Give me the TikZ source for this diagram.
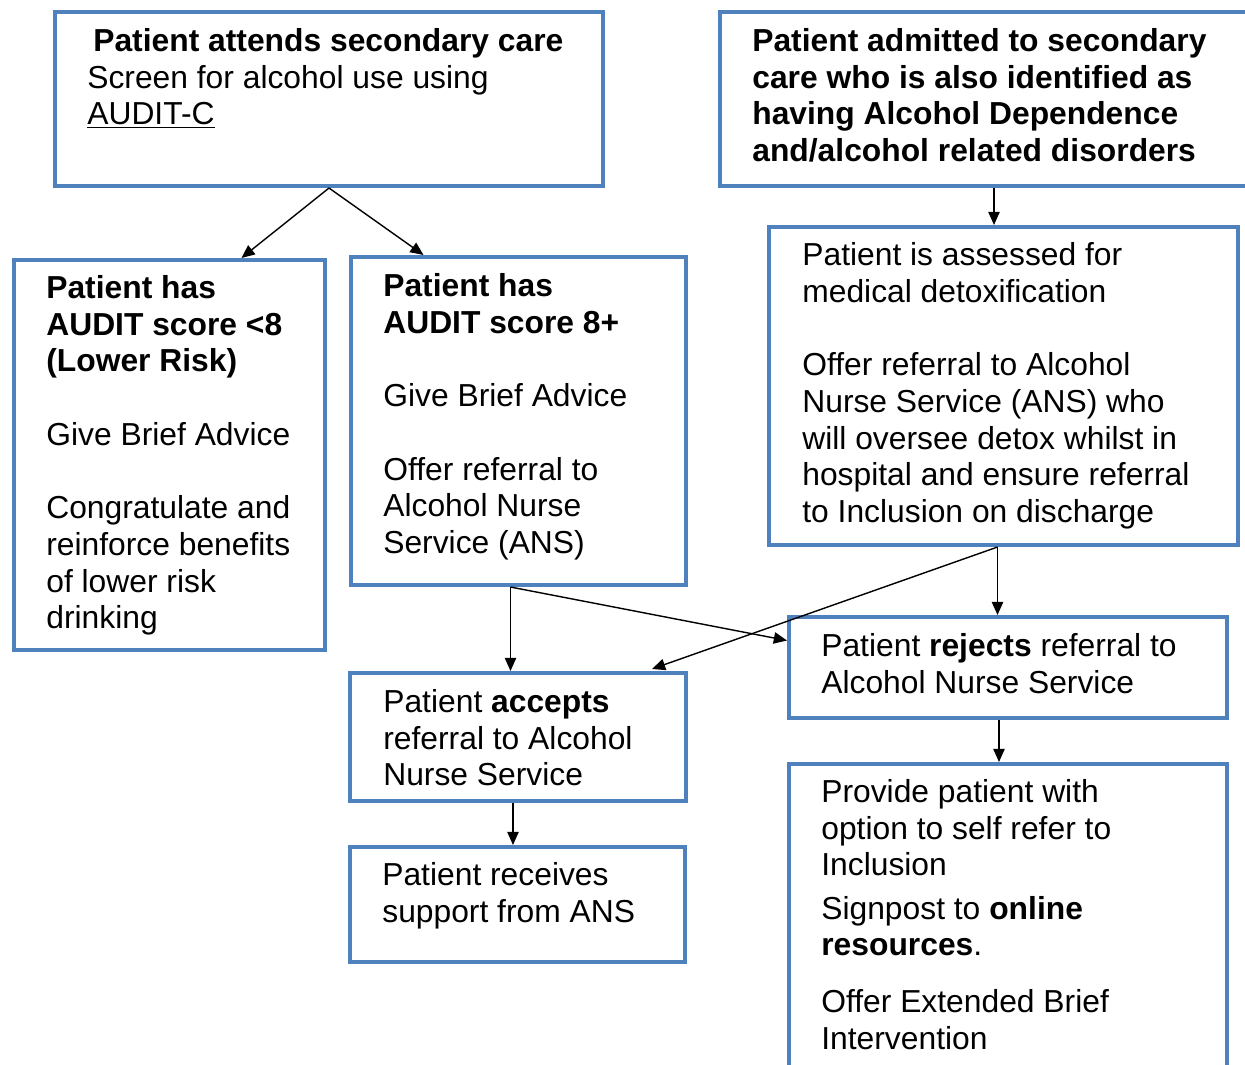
\documentclass[tikz,border=0pt]{standalone}
\usepackage{fontspec}
\setmainfont{Liberation Sans}
\usetikzlibrary{fit,calc,arrows.meta}
\definecolor{boxblue}{HTML}{4F81BD}
\tikzset{
  box/.style={draw=boxblue, line width=2.3pt, inner sep=0pt},
  txt/.style={anchor=north west, inner sep=0pt, align=left, font=\fontsize{18.1}{20.9}\selectfont},
  arr/.style={-{Triangle[length=7.5pt,width=6.5pt]}, line width=0.8pt}
}
\begin{document}
\begin{tikzpicture}[x=0.02cm, y=-0.02cm]
    \useasboundingbox (0,0) rectangle (1245,1065);
    \clip (0,0) rectangle (1245,1065);
    % boxes
    \node[box, fit={(55,12) (603,186)}] (attend) {};
    \node[box, fit={(720,12) (1264,186)}] (admit) {};
    \node[box, fit={(14,260) (325,650)}] (low) {};
    \node[box, fit={(351,257) (686,585)}] (high) {};
    \node[box, fit={(769,227) (1238,545)}] (assess) {};
    \node[box, fit={(350,673) (686,801)}] (accept) {};
    \node[box, fit={(789,617) (1227,718)}] (reject) {};
    \node[box, fit={(350,847) (685,962)}] (receive) {};
    \node[box, fit={(789,764) (1227,1100)}] (provide) {};
    % texts
    \node[txt] (attend-t) at (87,28) {\hspace*{3.4pt}\textbf{Patient attends secondary care}\\
        Screen for alcohol use using\\ \underline{AUDIT-C}};
    \node[txt] (admit-t) at (752,28) {\textbf{Patient admitted to secondary}\\
        \textbf{care who is also identified as}\\ \textbf{having Alcohol Dependence}\\
        \textbf{and/alcohol related disorders}};
    \node[txt] (low-t) at (46,275) {\textbf{Patient has}\\ \textbf{AUDIT score <8}\\
        \textbf{(Lower Risk)}\\[\baselineskip] Give Brief Advice\\[\baselineskip]
        Congratulate and\\ reinforce benefits\\ of lower risk\\ drinking};
    \node[txt] (high-t) at (383,273) {\textbf{Patient has}\\ \textbf{AUDIT score 8+}\\[\baselineskip]
        Give Brief Advice\\[\baselineskip] Offer referral to\\ Alcohol Nurse\\ Service (ANS)};
    \node[txt] (assess-t) at (802,242) {Patient is assessed for\\ medical detoxification\\[\baselineskip]
        Offer referral to Alcohol\\ Nurse Service (ANS) who\\ will oversee detox whilst in\\
        hospital and ensure referral\\ to Inclusion on discharge};
    \node[txt] (accept-t) at (383,689) {Patient \textbf{accepts}\\ referral to Alcohol\\ Nurse Service};
    \node[txt] (reject-t) at (821,633) {Patient \textbf{rejects} referral to\\ Alcohol Nurse Service};
    \node[txt] (receive-t) at (382,862) {Patient receives\\ support from ANS};
    \node[txt] (provide-t) at (821,779) {Provide patient with\\ option to self refer to\\ Inclusion\\[3.7pt]
        Signpost to \textbf{online}\\ \textbf{resources}.\\[11.3pt] Offer Extended Brief\\ Intervention};
    % connectors
    \coordinate (ad-out) at ($(admit.south)+(2,0)$);
    \coordinate (hi-out) at ($(high.south)+(-8,0)$);
    \coordinate (as-out) at ($(assess.south)+(-6,0)$);
    \coordinate (re-out) at ($(reject.south)+(-9,0)$);
    \coordinate (ac-out) at ($(accept.south)+(-5,0)$);
    \draw[arr] (attend.south) -- ($(low.north)+(72,0)$);
    \draw[arr] (attend.south) -- ($(high.north)+(-95,0)$);
    \draw[arr] (ad-out) -- (ad-out |- assess.north);
    \draw[arr] (hi-out) -- (hi-out |- accept.north);
    \draw[arr] (hi-out) -- ($(reject.west)+(0,-27)$);
    \draw[arr] (as-out) -- (as-out |- reject.north);
    \draw[arr] (as-out) -- ($(accept.north east)+(-36,-2)$);
    \draw[arr] (re-out) -- (re-out |- provide.north);
    \draw[arr] (ac-out) -- (ac-out |- receive.north);
\end{tikzpicture}
\end{document}
